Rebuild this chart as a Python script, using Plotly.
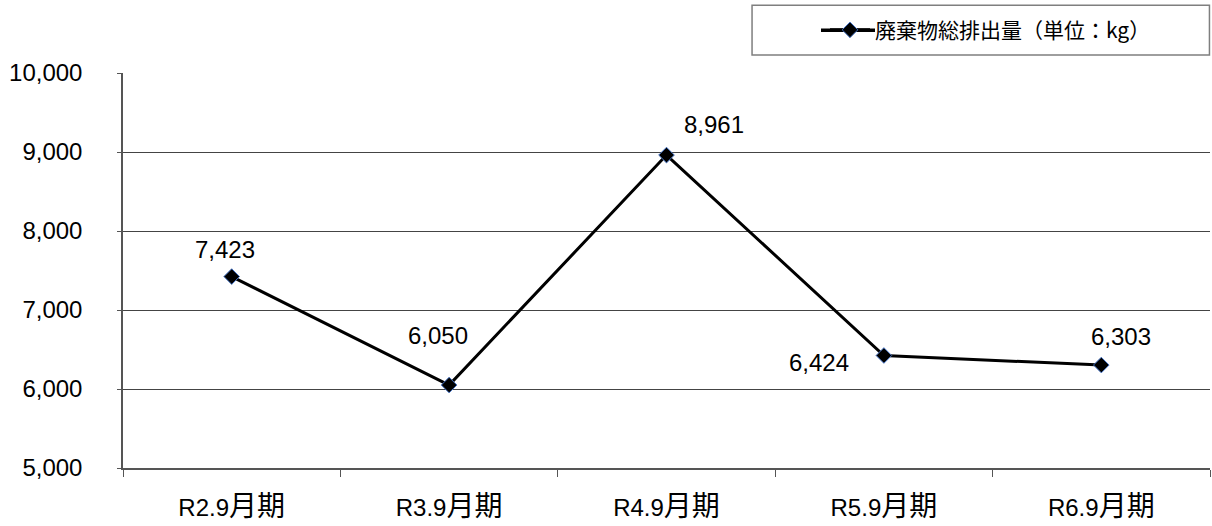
import plotly.graph_objects as go

categories = ["R2.9月期", "R3.9月期", "R4.9月期", "R5.9月期", "R6.9月期"]
values = [7423, 6050, 8961, 6424, 6303]
series_name = "廃棄物総排出量（単位：kg）"
y_ticks = [5000, 6000, 7000, 8000, 9000, 10000]

# label offsets in px (style only)
label_dx = [-7, -11, 47, -65, 20]
label_dy = [27, 50, 31, -7, 29]

NUMFONT = "Liberation Sans, Arial, sans-serif"
CJKFONT = "Noto Sans CJK JP, sans-serif"


def tick_html(label):
    # split ASCII prefix and CJK suffix for sizing
    i = 0
    while i < len(label) and ord(label[i]) < 128:
        i += 1
    return f"{label[:i]}<span style='font-family:Noto Sans CJK JP;font-size:28px'>{label[i:]}</span>"


fig = go.Figure()
fig.add_trace(go.Scatter(
    x=categories, y=values, mode="lines+markers", name=series_name,
    line=dict(color="black", width=3),
    marker=dict(symbol="diamond", size=12, color="black",
                line=dict(color="#4472C4", width=1)),
    cliponaxis=False,
))

for c, v, dx, dy in zip(categories, values, label_dx, label_dy):
    fig.add_annotation(x=c, y=v, xref="x", yref="y", text=f"{v:,}",
                       showarrow=False, xshift=dx, yshift=dy,
                       font=dict(family=NUMFONT, size=24, color="black"))

# legend frame
fig.add_shape(type="rect", xref="paper", yref="paper",
              x0=0.5787, x1=0.9995, y0=1.0453, y1=1.1713,
              line=dict(color="#7f7f7f", width=1.5), fillcolor="white", layer="below")
# longer legend line stroke (decoration)
fig.add_shape(type="line", xref="paper", yref="paper",
              x0=(821 - 123) / 1087, x1=(875 - 123) / 1087,
              y0=(470 - 30) / 397, y1=(470 - 30) / 397,
              line=dict(color="black", width=3.5), layer="below")

fig.update_layout(
    width=1212, height=526,
    margin=dict(l=123, r=2, t=73, b=56),
    paper_bgcolor="white", plot_bgcolor="white",
    font=dict(family=NUMFONT, size=24, color="black"),
    showlegend=True,
    legend=dict(x=(825 - 123) / 1087, y=(470 - 30) / 397, xanchor="left", yanchor="middle",
                bgcolor="rgba(0,0,0,0)", borderwidth=0, itemwidth=40,
                font=dict(family=CJKFONT, size=21, color="black")),
    xaxis=dict(
        type="category", range=[-0.5, 4.5],
        tickvals=categories, ticktext=[tick_html(c) for c in categories],
        showgrid=False, showline=True, linecolor="#555555", linewidth=1.5,
        ticks="outside", ticklen=7, tickcolor="#555555", tickson="boundaries",
        tickfont=dict(family=NUMFONT, size=24), ticklabelstandoff=17,
        fixedrange=True,
    ),
    yaxis=dict(
        range=[5000, 10000], tickvals=y_ticks,
        ticktext=[f"{t:,}" for t in y_ticks],
        showgrid=True, gridcolor="#444444", gridwidth=1,
        showline=True, linecolor="#555555", linewidth=1.5,
        ticks="outside", ticklen=4, tickcolor="#555555",
        tickfont=dict(family=NUMFONT, size=24), ticklabelstandoff=30,
        zeroline=False, fixedrange=True,
    ),
)

fig.write_html("out.html")
